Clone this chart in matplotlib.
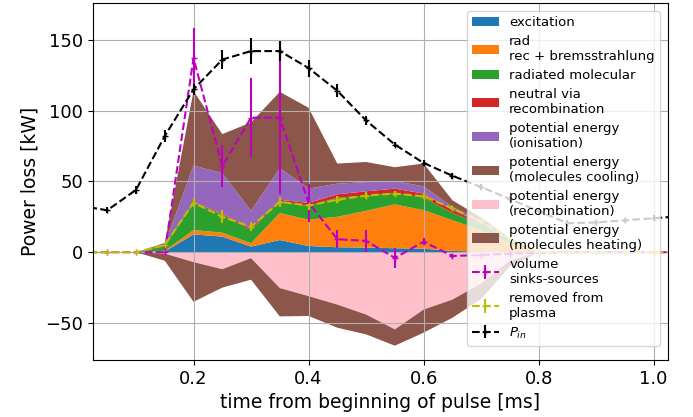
import matplotlib
matplotlib.use("Agg")
import matplotlib.pyplot as plt
import numpy as np

# time axis [ms]
time = [0.0, 0.05, 0.1, 0.15, 0.2, 0.25, 0.3, 0.35, 0.4, 0.45, 0.5,
        0.55, 0.6, 0.65, 0.7, 0.75, 0.8, 0.85, 0.9, 0.95, 1.0, 1.05]

# power loss channels [kW] (stacked, positive)
excitation = [0, 0, 0, 0.5, 12.6, 11.0, 4.0, 8.6, 4.4, 3.5, 3.3,
              2.8, 2.5, 0.9, 0.5, 0.2, 0, 0, 0, 0, 0, 0]
rad_rec_brems = [0, 0, 0, 0.5, 3.0, 2.8, 2.3, 19.0, 18.6, 21.5, 25.9,
                 31.0, 27.2, 21.7, 15.0, 6.0, 0, 0, 0, 0, 0, 0]
rad_molecular = [0, 0, 0, 3.5, 18.8, 12.8, 9.3, 8.5, 9.5, 13.5, 10.8,
                 8.0, 8.8, 5.2, 4.0, 2.0, 0, 0, 0, 0, 0, 0]
neutral_recomb = [0, 0, 0, 0.5, 0.8, 0.6, 1.2, 0.9, 2.3, 2.4, 3.0,
                  3.1, 2.9, 2.2, 1.0, 0.3, 0, 0, 0, 0, 0, 0]
pot_ionisation = [0, 0, 0, 0.5, 26.0, 28.6, 12.4, 22.4, 10.1, 7.5, 6.5,
                  5.3, 5.1, 2.0, 1.0, 0.3, 0, 0, 0, 0, 0, 0]
pot_mol_cooling = [0, 0, 0, 1.0, 52.6, 27.6, 62.4, 53.8, 57.1, 14.2, 14.2,
                   9.8, 16.1, 4.7, 3.0, 1.0, 0, 0, 0, 0, 0, 0]

# power gain channels [kW] (stacked, negative)
pot_recombination = [0, 0, 0, -1.0, -7.0, -12.0, -4.2, -25.3, -31.0, -37.0, -44.0,
                     -54.5, -40.5, -33.5, -22.0, -6.0, 0, 0, 0, 0, 0, 0]
pot_mol_heating = [0, 0, 0, -5.0, -28.0, -13.0, -15.2, -20.0, -14.0, -16.3, -14.0,
                   -11.5, -16.3, -12.8, -11.0, -4.0, 0, 0, 0, 0, 0, 0]

# balance curves with uncertainties [kW]
sinks_sources = [0, 0, 0, 0, 137, 60.7, 95, 95, 35, 9.2, 8.0,
                 -4.0, 7.4, -2.6, -2.0, -1.0, -0.5, 0, 0, 0, 0, 0]
sinks_sources_err = [0, 0, 0, 0.5, 21, 15, 28, 54, 13.5, 6.5, 8.0,
                     7.0, 2.5, 1.5, 1.0, 1.0, 0.5, 0.3, 0.3, 0.3, 0.3, 0.3]
removed = [0, 0, 0, 5.0, 35.0, 25.0, 18.0, 35.5, 33.0, 37.0, 40.0,
           41.4, 39.5, 31.0, 22.0, 9.0, 0, 0, 0, 0, 0, 0]
removed_err = [0, 0, 0, 1.0, 3.0, 4.5, 3.0, 3.5, 3.0, 2.5, 2.5,
               2.0, 2.0, 1.5, 1.0, 0.5, 0.3, 0.3, 0.3, 0.3, 0.3, 0.3]
p_in = [33, 29.6, 44, 82, 115, 136, 142, 142, 130, 114, 93,
        76, 63, 54, 46, 37.5, 29, 20.5, 21, 22.5, 24, 25.5]
p_in_err = [1, 2, 3, 4, 4, 7, 9, 7, 6, 4.5, 3,
            2, 2, 2, 2, 2, 2, 2, 2, 2, 2, 2]

pos_labels = ["excitation", "rad\nrec + bremsstrahlung", "radiated molecular",
              "neutral via\nrecombination", "potential energy\n(ionisation)",
              "potential energy\n(molecules cooling)"]
neg_labels = ["potential energy\n(recombination)", "potential energy\n(molecules heating)"]

fig = plt.figure(figsize=(6.93, 4.17), dpi=100)
ax = fig.add_axes([0.134, 0.137, 0.830, 0.856])

pos = ax.stackplot(time, excitation, rad_rec_brems, rad_molecular, neutral_recomb,
                   pot_ionisation, pot_mol_cooling,
                   colors=["C0", "C1", "C2", "C3", "C4", "C5"], labels=pos_labels)
neg = ax.stackplot(time, pot_recombination, pot_mol_heating,
                   colors=["pink", "C5"], labels=neg_labels)

eb1 = ax.errorbar(time, sinks_sources, yerr=sinks_sources_err, fmt="--+", color="m",
                  lw=1.5, elinewidth=1.5, ms=5, label="volume\nsinks-sources")
eb2 = ax.errorbar(time, removed, yerr=removed_err, fmt="--+", color="y",
                  lw=1.5, elinewidth=1.5, ms=5, label="removed from\nplasma")
eb3 = ax.errorbar(time, p_in, yerr=p_in_err, fmt="--+", color="k",
                  lw=1.5, elinewidth=1.5, ms=5, label="$P_{in}$")

ax.set_xlim(0.025, 1.025)
ax.set_ylim(-76, 176)
ax.grid(True)
ax.tick_params(labelsize=13)
ax.set_xlabel("time from beginning of pulse [ms]", fontsize=13.5)
ax.set_ylabel("Power loss [kW]", fontsize=13.5)

handles = list(pos) + list(neg) + [eb1, eb2, eb3]
ax.legend(handles=handles, loc="upper right", fontsize=9.5, labelspacing=0.45,
          borderaxespad=0.6)

fig.savefig("out.png", dpi=100)
